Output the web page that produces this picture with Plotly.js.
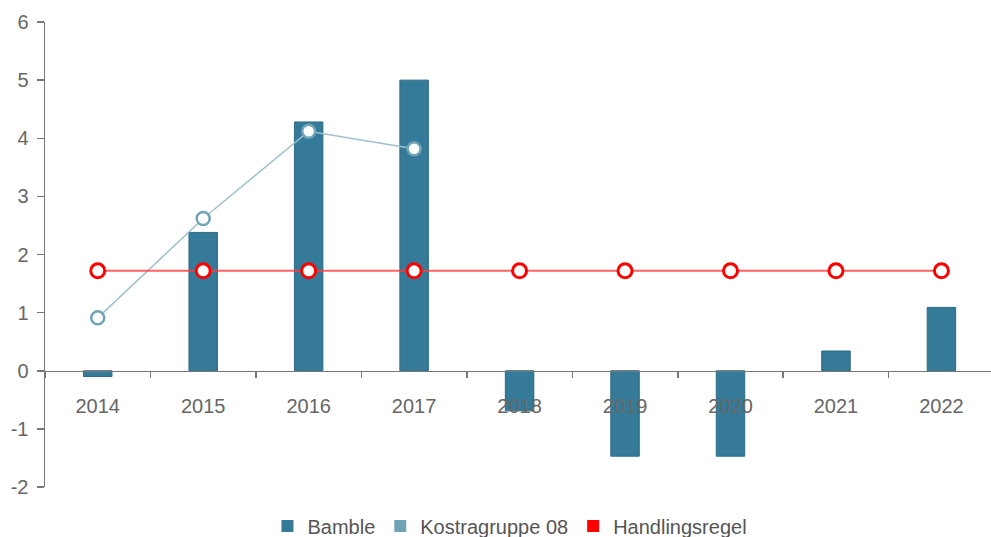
<!DOCTYPE html>
<html>
<head>
<meta charset="utf-8">
<script src="https://cdn.plot.ly/plotly-3.0.1.min.js"></script>
<style>html,body{margin:0;padding:0;background:#fff;}#chart{width:991px;height:537px;}</style>
</head>
<body>
<div id="chart"></div>
<script>
const years = ["2014","2015","2016","2017","2018","2019","2020","2021","2022"];
const bamble = [-0.1, 2.38, 4.28, 5.0, -0.69, -1.47, -1.47, 0.34, 1.09];
const kostra = [0.91, 2.62, 4.12, 3.82, null, null, null, null, null];
const handlingsregel = [1.72, 1.72, 1.72, 1.72, 1.72, 1.72, 1.72, 1.72, 1.72];
const seriesNames = ["Bamble", "Kostragruppe 08", "Handlingsregel"];
const yTicks = [-2, -1, 0, 1, 2, 3, 4, 5, 6];

const barColor = "#357a98";
const kostraColor = "#6fa3b5";
const redColor = "#ff0000";

const traces = [
  {type:"bar", x:years, y:bamble, name:seriesNames[0], width:0.27,
   marker:{color:barColor, line:{color:"#2d6a84", width:1}}, showlegend:false},
  {type:"scatter", mode:"lines+markers", x:years, y:kostra, name:seriesNames[1],
   line:{color:"#9cc0cd", width:1.5},
   marker:{symbol:"circle", size:13, color:"#ffffff", line:{color:kostraColor, width:2.5}},
   showlegend:false, connectgaps:false},
  {type:"scatter", mode:"lines+markers", x:years, y:handlingsregel, name:seriesNames[2],
   line:{color:"rgba(255,60,60,0.8)", width:2},
   marker:{symbol:"circle", size:14, color:"#ffffff", line:{color:redColor, width:3}},
   showlegend:false},
  // legend-only square swatches
  {type:"bar", x:[null], y:[null], name:seriesNames[0], marker:{color:barColor}},
  {type:"bar", x:[null], y:[null], name:seriesNames[1], marker:{color:kostraColor}},
  {type:"bar", x:[null], y:[null], name:seriesNames[2], marker:{color:redColor}}
];

const layout = {
  width:991, height:537,
  margin:{l:45, r:0, t:22, b:50, autoexpand:false},
  paper_bgcolor:"#ffffff", plot_bgcolor:"#ffffff",
  font:{family:"Liberation Sans, Arial, sans-serif", size:20, color:"#666666"},
  barmode:"overlay",
  showlegend:true,
  legend:{orientation:"h", x:0.4915, xanchor:"center", y:-0.084, yanchor:"middle",
          font:{size:20, color:"#555555"}, itemwidth:30, traceorder:"normal"},
  xaxis:{type:"category", categoryorder:"array", categoryarray:years,
         range:[-0.5, 8.47], anchor:"free", position:0.25,
         showline:true, linecolor:"#777777", linewidth:1.5,
         ticks:"outside", tickson:"boundaries", ticklen:6, tickcolor:"#777777", tickwidth:1.5,
         ticklabelstandoff:17, showgrid:false, zeroline:false,
         tickfont:{size:20, color:"#666666"}},
  yaxis:{range:[-2, 6], tickvals:yTicks, ticktext:yTicks.map(String),
         showline:true, linecolor:"#777777", linewidth:1.5,
         ticks:"outside", ticklen:7, tickcolor:"#777777", tickwidth:1.5,
         showgrid:false, zeroline:false, ticklabelstandoff:4,
         tickfont:{size:20, color:"#666666"}}
};

Plotly.newPlot("chart", traces, layout, {displayModeBar:false, staticPlot:true});
</script>
</body>
</html>
